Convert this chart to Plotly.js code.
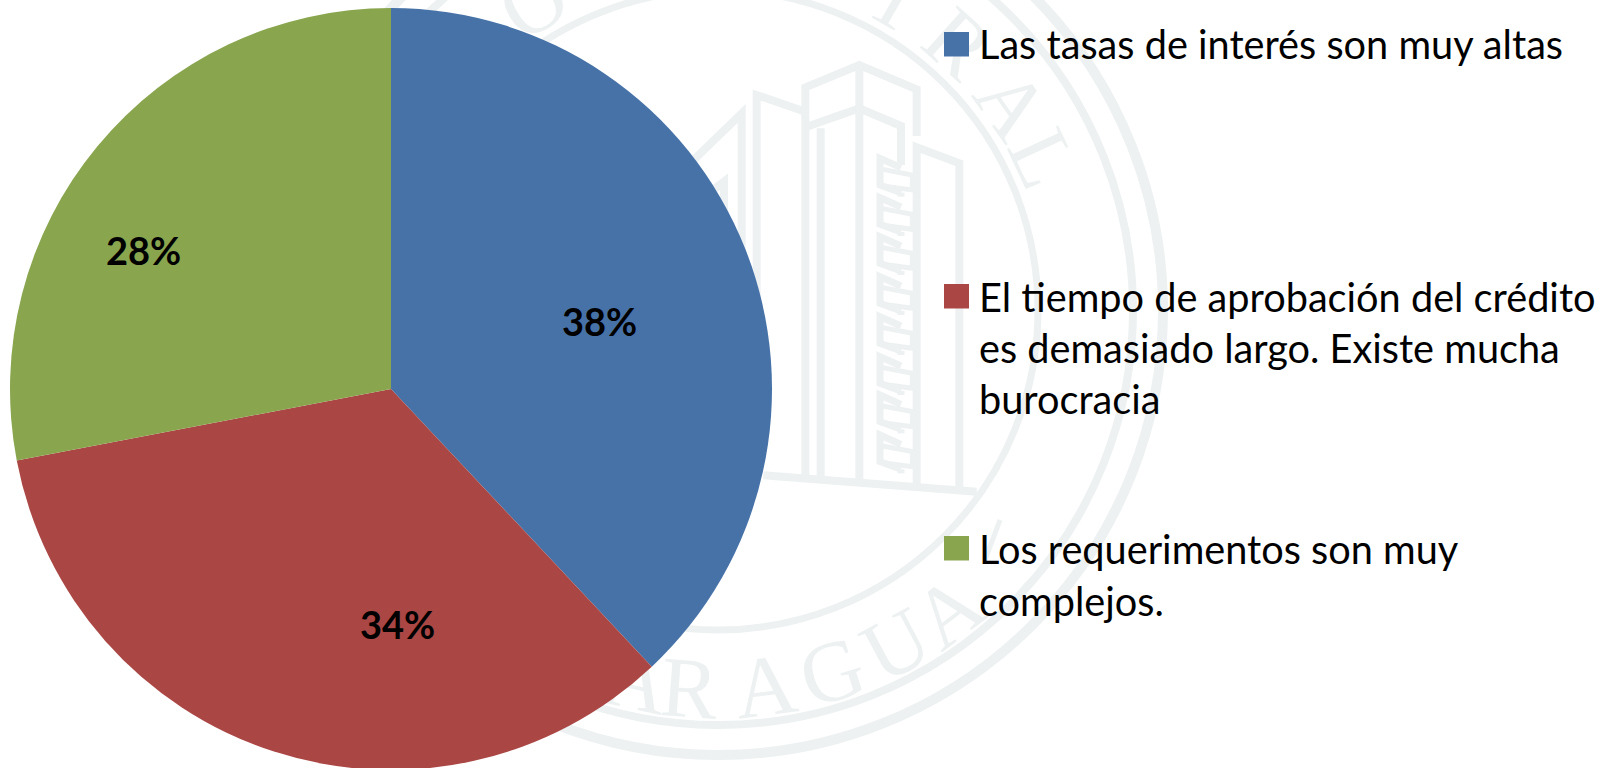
<!DOCTYPE html>
<html><head><meta charset="utf-8">
<script src="https://cdn.plot.ly/plotly-3.0.1.min.js"></script>
<style>html,body{margin:0;padding:0;background:#fff;overflow:hidden;width:1614px;height:768px}#c{width:1614px;height:790px}</style>
</head><body><div id="c"></div>
<script>
const categories = ["Las tasas de interés son muy altas",
  "El tiempo de aprobación del crédito|es demasiado largo. Existe mucha|burocracia",
  "Los requerimentos son muy|complejos."];
const values = [38, 34, 28];
const colors = ["#4672A8", "#AA4643", "#89A54E"];
const sealLetters = ["A","R","A","G","U","A"];
const sealAngles = [-12.3,-4.3,7.2,17.5,28,37.4];
const topLetters = ["O","T","R","A","L"];
const topAngles = [-31,30,42,55,65];

const W = 1614, H = 790, FONT = "Lato, 'Open Sans', sans-serif", WM = "#edf1f2";
const fx = x => x / W, fy = y => 1 - y / H;
const shapes = [], annotations = [];

// watermark seal
const cx = 718, cy = 310;
[[320,7],[415,8],[445,10]].forEach(([r,w]) => shapes.push({type:"circle",layer:"below",xref:"paper",yref:"paper",
  x0:fx(cx-r),x1:fx(cx+r),y0:fy(cy+r),y1:fy(cy-r),line:{color:WM,width:w},fillcolor:"rgba(0,0,0,0)"}));
function letter(ch, px, py, rot){
  shapes.push({type:"rect",layer:"below",xref:"paper",yref:"paper",x0:fx(px-35),x1:fx(px+35),y0:fy(py+35),y1:fy(py-35),
    line:{width:0},fillcolor:"rgba(0,0,0,0)",
    label:{text:ch,textangle:rot,textposition:"middle center",font:{family:"'Liberation Serif',serif",size:86,color:WM}}});
}
sealLetters.forEach((c,i)=>{const a=sealAngles[i]*Math.PI/180,R=370;letter(c,cx+R*Math.sin(a),cy+R*Math.cos(a),-sealAngles[i]);});
topLetters.forEach((c,i)=>{const a=topAngles[i]*Math.PI/180,R=368;letter(c,cx+R*Math.sin(a),cy-R*Math.cos(a),topAngles[i]);});
// short mark after the last letter of the lower arc
shapes.push({type:"line",layer:"below",xref:"paper",yref:"paper",x0:fx(985),y0:fy(560),x1:fx(1000),y1:fy(520),line:{color:WM,width:5}});

// watermark building, traced in a local 3x grid
const bx = X => fx(700 + X/3), by = Y => fy(50 + Y/3);
function poly(pts, w){
  const d = pts.map((p,i)=>(i?"L":"M")+bx(p[0])+","+by(p[1])).join(" ");
  shapes.push({type:"path",layer:"below",xref:"paper",yref:"paper",path:d,line:{color:WM,width:w||8}});
}
poly([[316,1280],[316,112],[478,45],[650,118],[650,258]]);
poly([[316,232],[478,175],[603,228],[603,345]]);
poly([[478,45],[478,1295]]);
poly([[316,185],[170,135],[170,1270]]);
poly([[362,235],[362,1280]]);
poly([[650,1310],[650,292],[778,340],[778,1328]]);
poly([[125,1000],[125,190],[-30,340]]);
poly([[72,1000],[72,395],[0,450]]);
poly([[190,1276],[830,1325]]);
[320,438,555,675,795,915,1030,1150].forEach(y=>{
  poly([[603,y+33],[540,y+5],[540,y+85],[603,y+108]],7);
  poly([[603,y+108],[603,y+120]],7);
  poly([[548,y+38],[637,y+55],[637,y+100],[548,y+88]],5);
});

// slice labels
const labelPos = [[599,321],[397,624],[143,250]];
values.forEach((v,i)=>annotations.push({xref:"paper",yref:"paper",x:fx(labelPos[i][0]),y:fy(labelPos[i][1]),
  text:v+"%",showarrow:false,xanchor:"center",yanchor:"middle",font:{family:FONT,size:38,color:"#000",weight:700}}));

// legend
const swatchY = [32,284,536], lineY = [[44],[296,347,398],[548,600]];
categories.forEach((c,i)=>{
  shapes.push({type:"rect",xref:"paper",yref:"paper",x0:fx(944),x1:fx(969),y0:fy(swatchY[i]+24.5),y1:fy(swatchY[i]),
    fillcolor:colors[i],line:{width:0}});
  c.split("|").forEach((t,j)=>annotations.push({xref:"paper",yref:"paper",x:fx(977),y:fy(lineY[i][j]),text:t,showarrow:false,
    xanchor:"left",yanchor:"middle",font:{family:FONT,size:39.7,color:"#000"}}));
});

Plotly.newPlot("c",[{type:"pie",labels:categories.map(c=>c.replace(/\|/g," ")),values:values,sort:false,direction:"clockwise",rotation:0,
  marker:{colors:colors,line:{width:0}},textinfo:"none",hoverinfo:"label+percent",
  domain:{x:[fx(10),fx(772)],y:[fy(770),fy(8)]}}],
  {width:W,height:H,margin:{l:0,r:0,t:0,b:0},paper_bgcolor:"#fff",showlegend:false,shapes:shapes,annotations:annotations},
  {displayModeBar:false});
</script></body></html>
